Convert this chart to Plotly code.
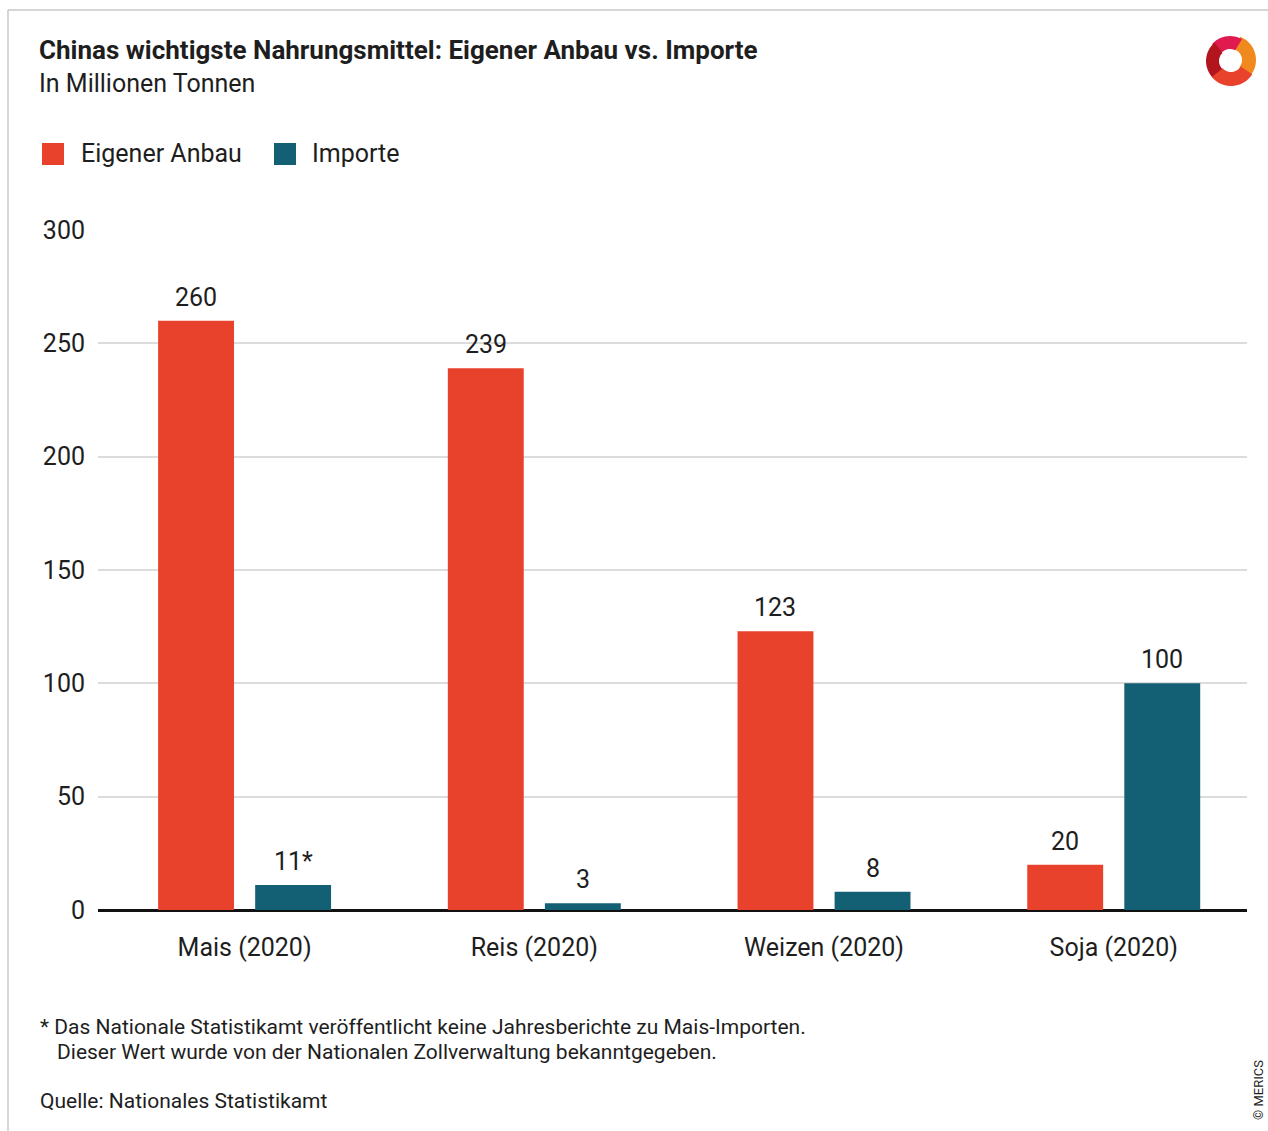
import plotly.graph_objects as go
import math

categories = ["Mais (2020)", "Reis (2020)", "Weizen (2020)", "Soja (2020)"]
eigener_anbau = [260, 239, 123, 20]
importe = [11, 3, 8, 100]
anbau_labels = ["260", "239", "123", "20"]
import_labels = ["11*", "3", "8", "100"]
series_names = ["Eigener Anbau", "Importe"]
y_ticks = [0, 50, 100, 150, 200, 250, 300]

W, H = 1268, 1131
L, R, T, B = 98, 1247, 230, 910

RED = "#E8412C"
TEAL = "#135F73"
TXT = "#1e1e1e"
FONT = "Roboto, 'Open Sans', sans-serif"
NARROW = "'Liberation Sans Narrow', 'Roboto', sans-serif"


def px(x):
    return (x - L) / (R - L)


def py(y):
    return (B - y) / (B - T)


fig = go.Figure()
fig.add_trace(go.Bar(x=categories, y=eigener_anbau, name=series_names[0], offsetgroup="a",
                     marker=dict(color=RED, line=dict(width=0))))
fig.add_trace(go.Bar(x=categories, y=importe, name=series_names[1], offsetgroup="b",
                     marker=dict(color=TEAL, line=dict(width=0))))

shapes = []
annotations = []

# bar value labels, anchored to data coordinates
BARGAP, GROUPGAP = 0.33, 0.218
slot = (1 - BARGAP) / 2
for i, cat in enumerate(categories):
    for k, (vals, labs) in enumerate([(eigener_anbau, anbau_labels), (importe, import_labels)]):
        xoff = (-0.5 + k) * slot
        annotations.append(dict(text=labs[i], x=i + xoff, y=vals[i], xref="x", yref="y",
                                xanchor="center", yanchor="bottom", yshift=7, showarrow=False,
                                font=dict(size=25, color=TXT, family=FONT)))

# frame lines
shapes.append(dict(type="line", xref="paper", yref="paper", x0=px(8), x1=px(1268), y0=py(10), y1=py(10),
                   line=dict(color="#c8c8c8", width=1.5)))
shapes.append(dict(type="line", xref="paper", yref="paper", x0=px(8), x1=px(8), y0=py(10), y1=py(1131),
                   line=dict(color="#c8c8c8", width=1.5)))

# manual legend
leg = [(42, RED, 79), (274, TEAL, 310)]
for (sx, col, tx), name in zip(leg, series_names):
    shapes.append(dict(type="rect", xref="paper", yref="paper", x0=px(sx), x1=px(sx + 22),
                       y0=py(143), y1=py(165), fillcolor=col, line=dict(width=0)))
    annotations.append(dict(text=name, xref="paper", yref="paper", x=px(tx), y=py(154),
                            xanchor="left", yanchor="middle", showarrow=False,
                            font=dict(size=25, color=TXT, family=FONT)))

# titles
annotations.append(dict(text="<b>Chinas wichtigste Nahrungsmittel: Eigener Anbau vs. Importe</b>",
                        xref="paper", yref="paper", x=px(37), y=py(50), xanchor="left", yanchor="middle",
                        showarrow=False, font=dict(size=26, color=TXT, family=NARROW)))
annotations.append(dict(text="In Millionen Tonnen", xref="paper", yref="paper", x=px(37), y=py(83),
                        xanchor="left", yanchor="middle", showarrow=False,
                        font=dict(size=25, color=TXT, family=NARROW)))
# footnotes
annotations.append(dict(text="* Das Nationale Statistikamt veröffentlicht keine Jahresberichte zu Mais-Importen.",
                        xref="paper", yref="paper", x=px(38), y=py(1027), xanchor="left", yanchor="middle",
                        showarrow=False, font=dict(size=21, color=TXT, family=NARROW)))
annotations.append(dict(text="Dieser Wert wurde von der Nationalen Zollverwaltung bekanntgegeben.",
                        xref="paper", yref="paper", x=px(55), y=py(1052), xanchor="left", yanchor="middle",
                        showarrow=False, font=dict(size=21, color=TXT, family=NARROW)))
annotations.append(dict(text="Quelle: Nationales Statistikamt",
                        xref="paper", yref="paper", x=px(38), y=py(1101), xanchor="left", yanchor="middle",
                        showarrow=False, font=dict(size=21, color=TXT, family=NARROW)))
annotations.append(dict(text="© MERICS", xref="paper", yref="paper", x=px(1258), y=py(1090),
                        xanchor="center", yanchor="middle", textangle=-90, showarrow=False,
                        font=dict(size=13, color=TXT, family=NARROW)))


# logo (approximate ring of coloured blobs)
def blob(cx, cy, r_out, r_in, a0, a1, color):
    pts_out = [(cx + r_out * math.cos(math.radians(a)), cy - r_out * math.sin(math.radians(a)))
               for a in range(a0, a1 + 1, 6)]
    pts_in = [(cx + r_in * math.cos(math.radians(a)), cy - r_in * math.sin(math.radians(a)))
              for a in range(a1, a0 - 1, -6)]
    pts = pts_out + pts_in
    path = "M " + " L ".join(f"{px(x):.5f},{py(y):.5f}" for x, y in pts) + " Z"
    return dict(type="path", xref="paper", yref="paper", path=path, fillcolor=color, line=dict(width=0))


cx, cy = 1231, 60
shapes.append(blob(cx, cy, 25, 11, -40, 70, "#F08A1E"))
shapes.append(blob(cx - 1, cy, 24, 11, 60, 140, "#E0194F"))
shapes.append(blob(cx - 1, cy + 1, 24, 11, 130, 230, "#B3151E"))
shapes.append(blob(cx, cy + 1, 25, 11, 220, 330, "#E8412C"))

fig.update_layout(
    width=W, height=H,
    margin=dict(l=L, r=W - R, t=T, b=H - B, pad=0),
    paper_bgcolor="white", plot_bgcolor="white",
    barmode="group", bargap=BARGAP, bargroupgap=GROUPGAP,
    showlegend=False,
    shapes=shapes, annotations=annotations,
    font=dict(family=FONT, color=TXT),
    xaxis=dict(showgrid=False, showline=False, ticks="", ticklabelstandoff=20, range=[-0.506, 3.46],
               tickfont=dict(size=25, color=TXT, family=FONT)),
    yaxis=dict(range=[0, 300], tickvals=y_ticks, showgrid=True, gridcolor="#dcdcdc", gridwidth=1.5,
               zeroline=True, zerolinecolor="#111111", zerolinewidth=3, showline=False,
               ticks="", ticklabelstandoff=12, tickfont=dict(size=25, color=TXT, family=FONT)),
)

fig.write_html("out.html")
